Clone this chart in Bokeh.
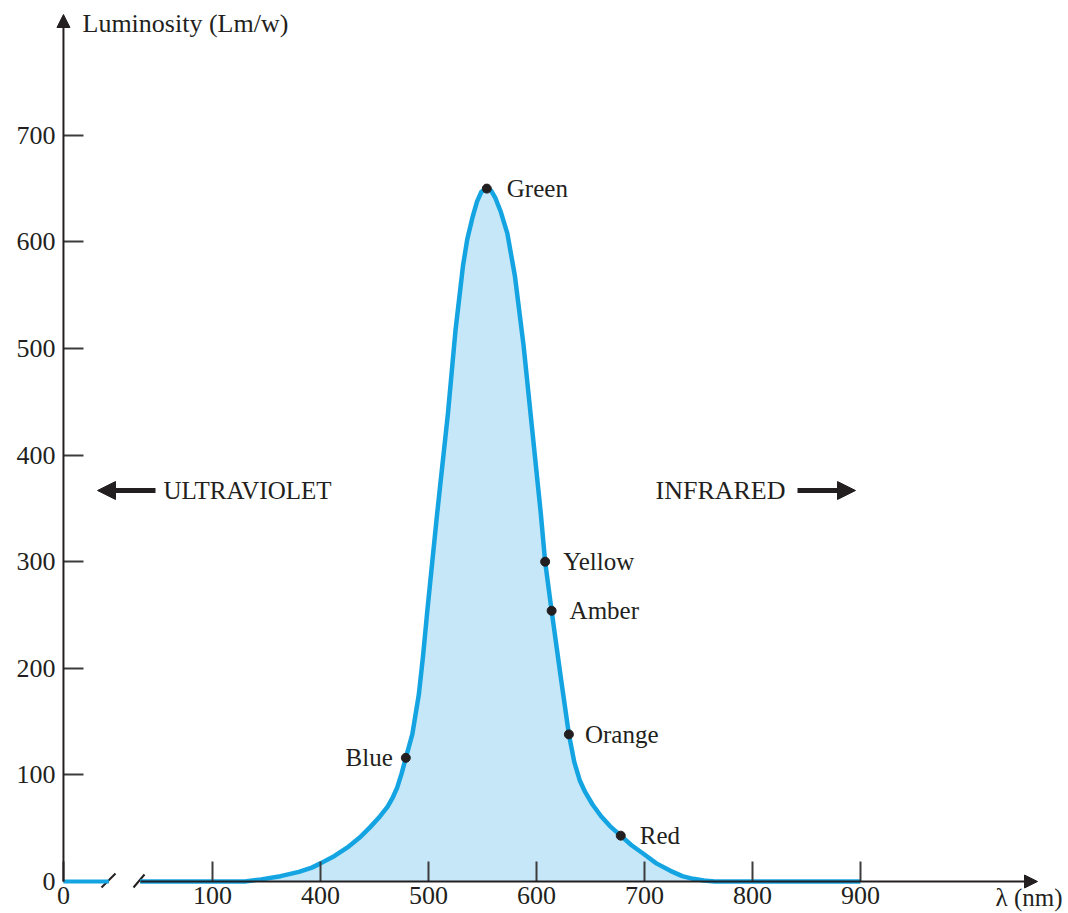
from bokeh.plotting import figure
from bokeh.models import Range1d, FixedTicker, Arrow, NormalHead
from bokeh.core.properties import value
from bokeh.embed import file_html
from bokeh.resources import INLINE

# ---------------- data ----------------
# luminosity curve (x in axis position units; broken axis resumes after the break)
curve_nm = [233, 330, 345, 363, 380, 392, 400, 413, 425, 436, 446, 455, 462, 467, 471,
            475, 479, 485, 491, 495, 499, 508, 518, 525, 532, 536, 541, 545, 549, 554,
            558, 562, 567, 573, 580, 588, 596, 604, 608, 614, 622, 630, 635, 640, 645,
            652, 660, 668, 678, 688, 699, 711, 724, 735, 745, 755, 765, 900]
curve_lum = [0, 0, 2, 5, 9, 13, 17, 24, 32, 41, 51, 61, 70, 79, 88,
             101, 116, 138, 175, 212, 255, 345, 439, 517, 578, 603, 624, 638, 647, 650,
             648, 641, 628, 608, 568, 503, 424, 345, 300, 254, 195, 138, 112, 95, 84,
             72, 61, 52, 43, 34, 26, 17, 10, 5, 2.5, 1, 0, 0]

# flat part before the axis break
pre_break_nm = [162, 204]
pre_break_lum = [0, 0]

color_names = ["Green", "Yellow", "Amber", "Orange", "Red", "Blue"]
color_nm = [554, 608, 614, 630, 678, 479]
color_lum = [650, 300, 254, 138, 43, 116]

x_tick_pos = [162, 300, 400, 500, 600, 700, 800, 900]
x_tick_labels = ["0", "100", "400", "500", "600", "700", "800", "900"]
y_ticks = [0, 100, 200, 300, 400, 500, 600, 700]

# ---------------- layout constants ----------------
PX_PER_NM = 1.08
PX_PER_LUM = 1.066
AX_X = 162          # position of the vertical axis
W, H = 1068, 913

def dx(px):
    return 400 + (px - 320) / PX_PER_NM

def dy(py):
    return (881 - py) / PX_PER_LUM

INK = "#231f20"
BLUE = "#14a4e2"
FILL = "#c6e7f7"
FONT = "Liberation Serif"

p = figure(width=W, height=H, output_backend="svg", toolbar_location=None,
           x_range=Range1d(dx(0), dx(W)), y_range=Range1d(dy(H), dy(0)),
           min_border=0, outline_line_color=None, background_fill_color="white")
p.grid.visible = False

# axes with inward ticks at fixed locations
for ax in (p.xaxis[0], p.yaxis[0]):
    ax.axis_line_color = None
    ax.major_tick_in = 20
    ax.major_tick_out = 0
    ax.minor_tick_line_color = None
    ax.major_tick_line_color = "#3c3c3c"
    ax.major_tick_line_width = 2
    ax.major_label_text_font = FONT
    ax.major_label_text_font_size = "26px"
    ax.major_label_text_color = INK
p.xaxis.fixed_location = 0
p.yaxis.fixed_location = AX_X
p.xaxis.ticker = FixedTicker(ticks=x_tick_pos)
p.xaxis.major_label_overrides = {t: l for t, l in zip(x_tick_pos, x_tick_labels)}
p.xaxis.major_label_standoff = 5
# the zero tick lies on the x axis: only its label is drawn
p.yaxis.ticker = FixedTicker(ticks=[t for t in y_ticks if t != 0])
p.yaxis.major_label_standoff = 8
p.text(x=[AX_X], y=[0], text=["0"], x_offset=-8,
       text_font=value(FONT), text_font_size="26px", text_color=INK,
       text_align="right", text_baseline="middle")

# fill under the curve
p.varea(x=curve_nm, y1=[0] * len(curve_nm), y2=curve_lum, fill_color=FILL)

# axis lines
p.line(x=pre_break_nm, y=pre_break_lum, line_color=INK, line_width=2)
p.add_layout(Arrow(x_start=dx(140), y_start=0, x_end=dx(1037), y_end=0,
                   line_color=INK, line_width=2,
                   end=NormalHead(size=13, fill_color=INK, line_color=INK)))
p.add_layout(Arrow(x_start=AX_X, y_start=0, x_end=AX_X, y_end=dy(14),
                   line_color=INK, line_width=2,
                   end=NormalHead(size=13, fill_color=INK, line_color=INK)))
# break marks
p.segment(x0=[dx(101), dx(133)], y0=[dy(887), dy(887)],
          x1=[dx(115), dx(144)], y1=[dy(873), dy(874)],
          line_color=INK, line_width=2)

# curve
p.line(x=pre_break_nm, y=pre_break_lum, line_color=BLUE, line_width=4)
p.line(x=curve_nm, y=curve_lum, line_color=BLUE, line_width=4.5, line_join="round")

# colour points
p.scatter(x=color_nm, y=color_lum, size=9, fill_color=INK, line_color=INK)
right_idx = [i for i, n in enumerate(color_names) if n != "Blue"]
right_off = {"Green": 20, "Yellow": 18, "Amber": 18, "Orange": 16, "Red": 19}
p.text(x=[color_nm[i] for i in right_idx], y=[color_lum[i] for i in right_idx],
       text=[color_names[i] for i in right_idx],
       x_offset=[right_off[color_names[i]] for i in right_idx],
       text_font=value(FONT), text_font_size="25px", text_color=INK,
       text_align="left", text_baseline="middle")
bi = color_names.index("Blue")
p.text(x=[color_nm[bi]], y=[color_lum[bi]], text=[color_names[bi]], x_offset=-13,
       text_font=value(FONT), text_font_size="25px", text_color=INK,
       text_align="right", text_baseline="middle")

# titles / region labels
p.text(x=[dx(82)], y=[dy(23)], text=["Luminosity (Lm/w)"],
       text_font=value(FONT), text_font_size="26px", text_color=INK,
       text_align="left", text_baseline="middle")
p.text(x=[dx(1062)], y=[dy(897)], text=["λ (nm)"],
       text_font=value(FONT), text_font_size="25px", text_color=INK,
       text_align="right", text_baseline="middle")
p.text(x=[dx(163)], y=[dy(490)], text=["ULTRAVIOLET"],
       text_font=value(FONT), text_font_size="25px", text_color=INK,
       text_align="left", text_baseline="middle")
p.text(x=[dx(655)], y=[dy(490)], text=["INFRARED"],
       text_font=value(FONT), text_font_size="26px", text_color=INK,
       text_align="left", text_baseline="middle")
p.add_layout(Arrow(x_start=dx(155), y_start=dy(490), x_end=dx(97), y_end=dy(490),
                   line_color=INK, line_width=5,
                   end=NormalHead(size=18, fill_color=INK, line_color=INK)))
p.add_layout(Arrow(x_start=dx(797), y_start=dy(490), x_end=dx(855), y_end=dy(490),
                   line_color=INK, line_width=5,
                   end=NormalHead(size=18, fill_color=INK, line_color=INK)))

open("out.html", "w").write(file_html(p, INLINE))
